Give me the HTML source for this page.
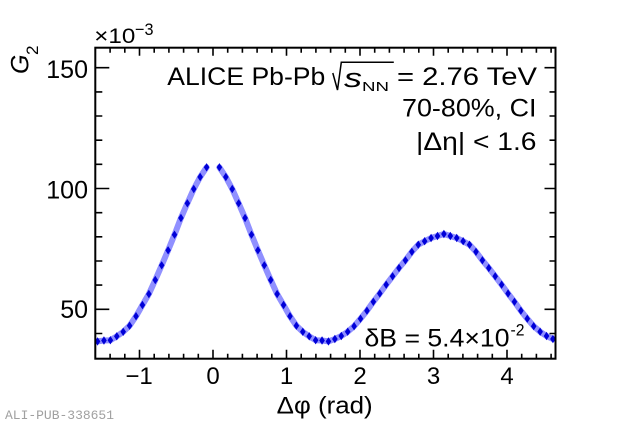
<!DOCTYPE html>
<html>
<head>
<meta charset="utf-8">
<style>
  html, body { margin: 0; padding: 0; background: #fff; }
  svg { display: block; }
  text { font-family: "Liberation Sans", Arial, sans-serif; fill: #000; }
</style>
</head>
<body>
<svg width="622" height="424" viewBox="0 0 622 424" xmlns="http://www.w3.org/2000/svg">
  <rect width="622" height="424" fill="#fff"/>
  <defs>
    <marker id="dm" markerUnits="userSpaceOnUse" markerWidth="7" markerHeight="9" refX="3.5" refY="4.5" orient="0" style="overflow:visible">
      <path d="M3.5,0.3 L6.3,4.5 L3.5,8.7 L0.7,4.5 Z" fill="#0000d8"/>
    </marker>
  </defs>

  <!-- systematic band -->
  <g fill="none" stroke="#9090ff" stroke-width="6" stroke-linejoin="round" stroke-linecap="round">
    <polyline points="97.55,341.4 103.96,340.5 110.38,340.2 116.79,336.3 123.21,331.8 129.62,325.7 136.03,316.2 142.45,305.0 148.86,294.0 155.28,280.0 161.69,265.3 168.10,250.3 174.52,234.7 180.93,218.0 187.35,203.3 193.76,189.0 200.17,177.0 206.59,167.3"/>
    <polyline points="219.42,167.3 225.83,177.0 232.24,189.0 238.66,203.3 245.07,218.0 251.49,234.7 257.90,250.3 264.31,265.3 270.73,280.0 277.14,294.0 283.56,305.0 289.97,316.2 296.38,325.7 302.80,331.8 309.21,336.3 315.63,340.2 322.04,340.5 328.45,341.4 334.87,339.0 341.28,336.0 347.70,331.7 354.11,326.2 360.52,318.7 366.94,310.7 373.35,301.8 379.77,293.5 386.18,284.7 392.59,276.3 399.01,268.0 405.42,260.3 411.84,251.8 418.25,244.7 424.66,241.2 431.08,238.0 437.49,236.0 443.91,234.0 450.32,236.0 456.73,238.0 463.15,241.2 469.56,244.7 475.98,251.8 482.39,260.3 488.80,268.0 495.22,276.3 501.63,284.7 508.05,293.5 514.46,301.8 520.87,310.7 527.29,318.7 533.70,326.2 540.12,331.7 546.53,336.0 552.94,339.0"/>
  </g>

  <!-- data markers -->
  <g fill="none" stroke="none" marker-start="url(#dm)" marker-mid="url(#dm)" marker-end="url(#dm)">
    <polyline points="97.55,341.4 103.96,340.5 110.38,340.2 116.79,336.3 123.21,331.8 129.62,325.7 136.03,316.2 142.45,305.0 148.86,294.0 155.28,280.0 161.69,265.3 168.10,250.3 174.52,234.7 180.93,218.0 187.35,203.3 193.76,189.0 200.17,177.0 206.59,167.3"/>
    <polyline points="219.42,167.3 225.83,177.0 232.24,189.0 238.66,203.3 245.07,218.0 251.49,234.7 257.90,250.3 264.31,265.3 270.73,280.0 277.14,294.0 283.56,305.0 289.97,316.2 296.38,325.7 302.80,331.8 309.21,336.3 315.63,340.2 322.04,340.5 328.45,341.4 334.87,339.0 341.28,336.0 347.70,331.7 354.11,326.2 360.52,318.7 366.94,310.7 373.35,301.8 379.77,293.5 386.18,284.7 392.59,276.3 399.01,268.0 405.42,260.3 411.84,251.8 418.25,244.7 424.66,241.2 431.08,238.0 437.49,236.0 443.91,234.0 450.32,236.0 456.73,238.0 463.15,241.2 469.56,244.7 475.98,251.8 482.39,260.3 488.80,268.0 495.22,276.3 501.63,284.7 508.05,293.5 514.46,301.8 520.87,310.7 527.29,318.7 533.70,326.2 540.12,331.7 546.53,336.0 552.94,339.0"/>
  </g>

  <!-- frame -->
  <rect x="95.3" y="47.7" width="460.2" height="311" fill="none" stroke="#000" stroke-width="2"/>

  <!-- ticks -->
  <g stroke="#000" stroke-width="1.6" fill="none">
    <path d="M139.5,358.7v-9 M213,358.7v-9 M286.5,358.7v-9 M360,358.7v-9 M433.5,358.7v-9 M507,358.7v-9"/>
    <path d="M110.1,358.7v-5 M124.8,358.7v-5 M154.2,358.7v-5 M168.9,358.7v-5 M183.6,358.7v-5 M198.3,358.7v-5 M227.7,358.7v-5 M242.4,358.7v-5 M257.1,358.7v-5 M271.8,358.7v-5 M301.2,358.7v-5 M315.9,358.7v-5 M330.6,358.7v-5 M345.3,358.7v-5 M374.7,358.7v-5 M389.4,358.7v-5 M404.1,358.7v-5 M418.8,358.7v-5 M448.2,358.7v-5 M462.9,358.7v-5 M477.6,358.7v-5 M492.3,358.7v-5 M521.7,358.7v-5 M536.4,358.7v-5 M551.1,358.7v-5"/>
    <path d="M139.5,47.7v8 M213,47.7v8 M286.5,47.7v8 M360,47.7v8 M433.5,47.7v8 M507,47.7v8"/>
    <path d="M110.1,47.7v5 M124.8,47.7v5 M154.2,47.7v5 M168.9,47.7v5 M183.6,47.7v5 M198.3,47.7v5 M227.7,47.7v5 M242.4,47.7v5 M257.1,47.7v5 M271.8,47.7v5 M301.2,47.7v5 M315.9,47.7v5 M330.6,47.7v5 M345.3,47.7v5 M374.7,47.7v5 M389.4,47.7v5 M404.1,47.7v5 M418.8,47.7v5 M448.2,47.7v5 M462.9,47.7v5 M477.6,47.7v5 M492.3,47.7v5 M521.7,47.7v5 M536.4,47.7v5 M551.1,47.7v5"/>
    <path d="M95.3,67.7h14 M95.3,188.5h14 M95.3,309.3h14"/>
    <path d="M95.3,91.9h7 M95.3,116.0h7 M95.3,140.2h7 M95.3,164.3h7 M95.3,212.7h7 M95.3,236.8h7 M95.3,261.0h7 M95.3,285.1h7 M95.3,333.5h7"/>
    <path d="M555.5,67.7h-11 M555.5,188.5h-11 M555.5,309.3h-11"/>
    <path d="M555.5,91.9h-6 M555.5,116.0h-6 M555.5,140.2h-6 M555.5,164.3h-6 M555.5,212.7h-6 M555.5,236.8h-6 M555.5,261.0h-6 M555.5,285.1h-6 M555.5,333.5h-6"/>
  </g>

  <!-- y tick labels -->
  <g font-size="25" text-anchor="end">
    <text x="88" y="77.8">150</text>
    <text x="88" y="198.3">100</text>
    <text x="88" y="317.9">50</text>
  </g>

  <!-- x tick labels -->
  <g font-size="24" text-anchor="middle">
    <text x="139" y="384">−1</text>
    <text x="213" y="384">0</text>
    <text x="286.5" y="384">1</text>
    <text x="360" y="384">2</text>
    <text x="433.5" y="384">3</text>
    <text x="507" y="384">4</text>
  </g>

  <!-- x10^-3 -->
  <text x="94.3" y="43" font-size="21" textLength="41" lengthAdjust="spacingAndGlyphs">×10</text>
  <text x="135" y="35" font-size="17" textLength="18.5" lengthAdjust="spacingAndGlyphs">−3</text>

  <!-- y axis title G2 -->
  <text transform="translate(28.5,74) rotate(-90)" font-size="25" font-style="italic" textLength="19.5" lengthAdjust="spacingAndGlyphs">G</text>
  <text transform="translate(38,55) rotate(-90)" font-size="17" textLength="9.5" lengthAdjust="spacingAndGlyphs">2</text>

  <!-- x axis title -->
  <text x="276.7" y="413.3" font-size="24" textLength="96" lengthAdjust="spacingAndGlyphs">Δφ (rad)</text>

  <!-- header texts -->
  <text x="167.3" y="85" font-size="25" textLength="158" lengthAdjust="spacingAndGlyphs">ALICE Pb-Pb</text>
  <path d="M332.8,73 L337.5,90 L341.3,62.3 L393.8,62.3" fill="none" stroke="#000" stroke-width="1.5"/>
  <text x="344" y="86.8" font-size="27" font-style="italic" textLength="18" lengthAdjust="spacingAndGlyphs">s</text>
  <text x="362" y="91" font-size="12.5" textLength="27" lengthAdjust="spacingAndGlyphs">NN</text>
  <text x="397" y="85" font-size="25" textLength="140" lengthAdjust="spacingAndGlyphs">= 2.76 TeV</text>

  <text x="402" y="116.7" font-size="25" textLength="134.5" lengthAdjust="spacingAndGlyphs">70-80%, CI</text>
  <text x="416" y="150" font-size="25" textLength="120.5" lengthAdjust="spacingAndGlyphs">|Δη| &lt; 1.6</text>

  <!-- deltaB -->
  <text x="364.5" y="346.7" font-size="25" textLength="145" lengthAdjust="spacingAndGlyphs">δB = 5.4×10</text>
  <text x="510.5" y="335.5" font-size="17" textLength="14" lengthAdjust="spacingAndGlyphs">-2</text>

  <!-- watermark -->
  <text x="5" y="419" font-size="13" style="font-family:'Liberation Mono',monospace;fill:#a0a0a0" textLength="109" lengthAdjust="spacingAndGlyphs">ALI-PUB-338651</text>
</svg>
</body>
</html>
